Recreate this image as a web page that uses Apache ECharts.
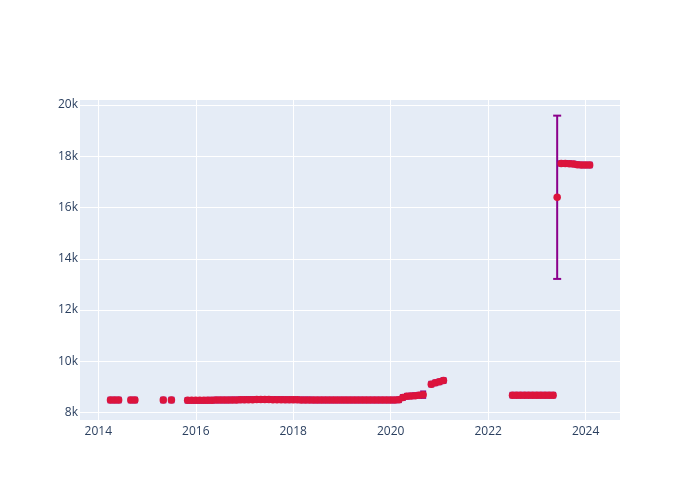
<!DOCTYPE html>
<html>
<head>
<meta charset="utf-8">
<script src="https://cdn.jsdelivr.net/npm/echarts@6/dist/echarts.min.js"></script>
<style>html,body{margin:0;padding:0;background:#fff;}#c{width:700px;height:500px;}</style>
</head>
<body>
<div id="c"></div>
<script>
// Monthly observations (YYYY-MM)
const dates = [
  '2014-04','2014-05','2014-06','2014-09','2014-10','2015-05','2015-07',
  '2015-11','2015-12',
  '2016-01','2016-02','2016-03','2016-04','2016-05','2016-06','2016-07','2016-08','2016-09','2016-10','2016-11','2016-12',
  '2017-01','2017-02','2017-03','2017-04','2017-05','2017-06','2017-07','2017-08','2017-09','2017-10','2017-11','2017-12',
  '2018-01','2018-02','2018-03','2018-04','2018-05','2018-06','2018-07','2018-08','2018-09','2018-10','2018-11','2018-12',
  '2019-01','2019-02','2019-03','2019-04','2019-05','2019-06','2019-07','2019-08','2019-09','2019-10','2019-11','2019-12',
  '2020-01','2020-02','2020-03','2020-04','2020-05','2020-06','2020-07','2020-08','2020-09',
  '2020-11','2020-12','2021-01','2021-02',
  '2022-07','2022-08','2022-09','2022-10','2022-11','2022-12','2023-01','2023-02','2023-03','2023-04','2023-05',
  '2023-06',
  '2023-07','2023-08','2023-09','2023-10','2023-11','2023-12','2024-01','2024-02'
];
const values = [
  8490,8490,8490,8490,8490,8490,8490,
  8480,8480,
  8480,8480,8480,8485,8485,8490,8490,8490,8490,8495,8495,8500,
  8500,8505,8505,8510,8510,8510,8510,8505,8505,8505,8500,8500,
  8500,8500,8495,8495,8495,8490,8490,8490,8490,8490,8490,8490,
  8490,8490,8490,8490,8490,8490,8490,8490,8490,8490,8490,8490,
  8490,8490,8500,8590,8640,8650,8660,8680,8700,
  9110,9160,9200,9250,
  8680,8680,8680,8680,8680,8680,8680,8680,8680,8680,8680,
  16400,
  17720,17720,17710,17700,17670,17660,17660,17660
];
const errors = [
  90,90,90,90,90,90,90,
  90,90,
  90,90,90,90,90,90,90,90,90,90,90,90,
  90,90,90,90,90,90,90,90,90,90,90,90,
  90,90,90,90,90,90,90,90,90,90,90,90,
  90,90,90,90,90,90,90,90,90,90,90,90,
  90,90,90,90,90,90,90,90,125,
  90,90,90,90,
  90,90,90,90,90,90,90,90,90,90,90,
  3185,
  90,90,90,90,90,90,90,90
];
const xTicks = [2014, 2016, 2018, 2020, 2022, 2024];
const yTicks = [8000, 10000, 12000, 14000, 16000, 18000, 20000];

function toYear(d) {
  const [y, m] = d.split('-').map(Number);
  return y + (m - 1) / 12;
}
const pts = dates.map((d, i) => [toYear(d), values[i], errors[i]]);

const textColor = '#2a3f5f';
const font = '"Open Sans", "Noto Sans", sans-serif';
const chart = echarts.init(document.getElementById('c'), null, {renderer: 'canvas'});
chart.setOption({
  animation: false,
  backgroundColor: '#ffffff',
  grid: {left: 80, right: 80, top: 100, bottom: 80, show: true, backgroundColor: '#E5ECF6', borderWidth: 0},
  xAxis: {
    type: 'value', min: 2013.624, max: 2024.706,
    axisLine: {show: false},
    axisTick: {show: false, customValues: xTicks},
    axisLabel: {customValues: xTicks, color: textColor, fontSize: 12, fontFamily: font, margin: 6,
      formatter: v => String(Math.round(v))},
    splitLine: {show: true, lineStyle: {color: '#ffffff', width: 1}}
  },
  yAxis: {
    type: 'value', min: 7711, max: 20195,
    axisLine: {show: false},
    axisTick: {show: false, customValues: yTicks},
    axisLabel: {customValues: yTicks, color: textColor, fontSize: 12, fontFamily: font, margin: 2,
      formatter: v => (v / 1000) + 'k'},
    splitLine: {show: true, lineStyle: {color: '#ffffff', width: 1}}
  },
  series: [
    {
      type: 'custom',
      data: pts,
      encode: {x: 0, y: 1},
      z: 2,
      clip: true,
      renderItem: function (params, api) {
        const x = api.value(0), y = api.value(1), e = api.value(2);
        const t = api.coord([x, y + e]);
        const b = api.coord([x, y - e]);
        const w = e > 1000 ? 4 : 3;
        const st = {stroke: '#8B008B', lineWidth: 2};
        return {type: 'group', children: [
          {type: 'line', shape: {x1: t[0], y1: t[1], x2: b[0], y2: b[1]}, style: st},
          {type: 'line', shape: {x1: t[0] - w, y1: t[1], x2: t[0] + w, y2: t[1]}, style: st},
          {type: 'line', shape: {x1: b[0] - w, y1: b[1], x2: b[0] + w, y2: b[1]}, style: st}
        ]};
      }
    },
    {
      type: 'scatter',
      data: pts,
      encode: {x: 0, y: 1},
      symbol: 'circle',
      symbolSize: 7.5,
      itemStyle: {color: '#DC143C', opacity: 1},
      z: 3
    }
  ]
});
</script>
</body>
</html>
